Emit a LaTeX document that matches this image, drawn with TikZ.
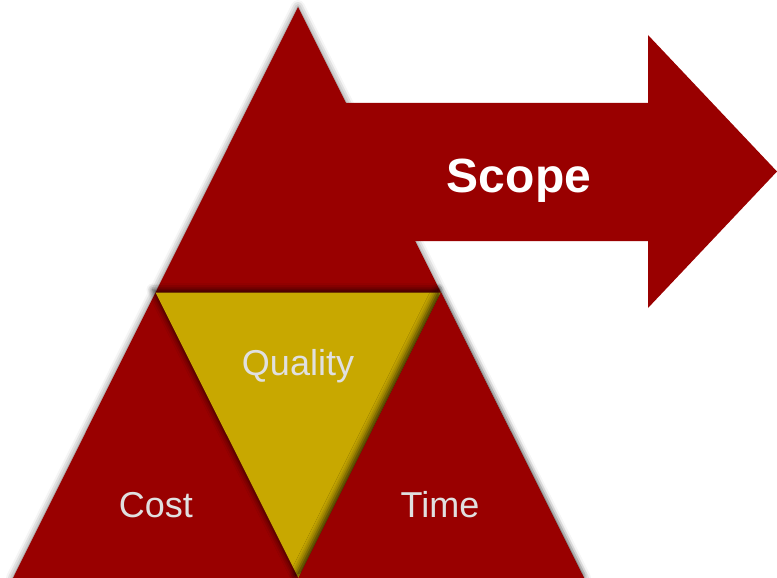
\documentclass[tikz,border=0pt]{standalone}
\usepackage{fontspec}
\setmainfont{Liberation Sans}
\usetikzlibrary{shadows.blur}
\definecolor{pmred}{RGB}{153,0,0}
\definecolor{pmgold}{RGB}{200,168,0}
\definecolor{pmtext}{RGB}{224,224,224}
\tikzset{
  redpart/.style={fill=pmred,draw=none},
  goldpart/.style={fill=pmgold,draw=none},
  glow/.style={blur shadow={shadow xshift=0pt,shadow yshift=0pt,shadow blur radius=7pt,shadow opacity=60}},
  innerglow/.style={blur shadow={shadow xshift=-3pt,shadow yshift=3pt,shadow blur radius=6pt,shadow opacity=70}},
  lbl/.style={text=pmtext,anchor=base,font=\fontsize{36}{36}\selectfont},
}
\begin{document}
\begin{tikzpicture}[x=1pt,y=-1pt]
\useasboundingbox (0,0) rectangle (777,578);
%
\coordinate (apex) at (298,7);
\coordinate (bleft) at (13,578);
\coordinate (bright) at (584,578);
\coordinate (mleft) at (155.5,292.5);
\coordinate (mright) at (441,292.5);
\coordinate (mbase) at (298.5,578);
%
\fill[redpart,glow](apex)--(bright)--(bleft)--cycle;
\fill[redpart](340,103)--(648,103)--(648,35)--(777,171.5)--(648,308)--(648,241)--(405,241)--cycle;
%
\fill[goldpart,innerglow](mleft)--(mright)--(mbase)--cycle;
\fill[redpart,innerglow](mright)--(bright)--(mbase)--cycle;
%
\node[lbl] (quality) at (298,375) {Quality};
\node[lbl] (cost) at (156,517) {Cost};
\node[lbl] (time) at (440,517) {Time};
\node[anchor=base,text=white,font=\bfseries\fontsize{48}{48}\selectfont] (scope) at (519,192) {Scope};
\end{tikzpicture}
\end{document}
